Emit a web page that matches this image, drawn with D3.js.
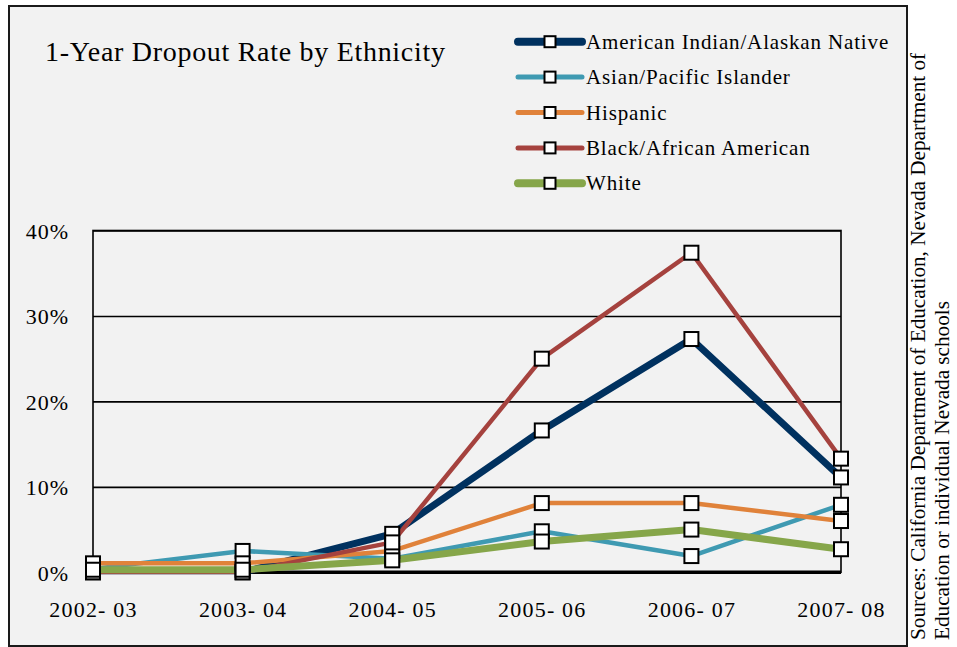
<!DOCTYPE html>
<html>

<head>
    <meta charset="utf-8">
    <script src="https://cdn.jsdelivr.net/npm/d3@7"></script>
    <style>
        body { margin: 0; background: #fff; }
        text { font-family: "Liberation Serif", "Times New Roman", serif; fill: #000; }
    </style>
</head>

<body>
    <div id="chart"></div>
    <script>

        var width = 957;
        var height = 647;

        // data
        var years = ["2002- 03", "2003- 04", "2004- 05", "2005- 06", "2006- 07", "2007- 08"];
        var groups = ["American Indian/Alaskan Native", "Asian/Pacific Islander", "Hispanic", "Black/African American", "White"];
        var amIndian = [0, 0, 4.5, 16.6, 27.3, 11.1];
        var asian = [0.4, 2.5, 1.6, 4.8, 1.9, 7.9];
        var hispanic = [1.05, 1.05, 2.5, 8.1, 8.1, 6.0];
        var black = [0, 0, 3.5, 25.0, 37.4, 13.3];
        var white = [0.3, 0.3, 1.4, 3.6, 5.0, 2.7];
        var yTicks = [0, 10, 20, 30, 40];

        var colors = ["#00315f", "#3f9ab2", "#e0823a", "#a5423e", "#86a64a"];
        var widths = [7, 4.5, 4.5, 4.5, 7];
        var legendWidths = [8, 5, 5, 5, 8];
        var series = [amIndian, asian, hispanic, black, white];

        var svg = d3.select("#chart")
            .append("svg")
            .attr("width", width)
            .attr("height", height);

        //---------------------------------- FRAME
        svg.append("rect")
            .attr("x", 9).attr("y", 6)
            .attr("width", 898).attr("height", 640)
            .attr("fill", "#f2f2f2")
            .attr("stroke", "#1a1a1a")
            .attr("stroke-width", 2);

        svg.append("text")
            .attr("x", 45).attr("y", 61)
            .attr("font-size", 28)
            .style("letter-spacing", "0.7px")
            .text("1-Year Dropout Rate by Ethnicity");

        //---------------------------------- SCALES
        var pLeft = 93, pRight = 841, pTop = 230.5, pBottom = 572.3;

        var x = d3.scalePoint().domain(years).range([pLeft, pRight]);
        var y = d3.scaleLinear().domain([0, 40]).range([pBottom, pTop]);

        // gridlines
        var grid = svg.append("g")
            .attr("transform", "translate(" + pLeft + ",0)")
            .call(d3.axisLeft(y).tickValues(yTicks).tickSize(-(pRight - pLeft)).tickFormat(""));
        grid.select(".domain").remove();
        grid.selectAll("line").attr("stroke", "#000").attr("stroke-width", 1.6);

        // plot border
        svg.append("rect")
            .attr("x", pLeft).attr("y", pTop)
            .attr("width", pRight - pLeft).attr("height", pBottom - pTop)
            .attr("fill", "none")
            .attr("stroke", "#000")
            .attr("stroke-width", 1.6);

        // y labels
        var yAxis = svg.append("g")
            .attr("transform", "translate(" + pLeft + ",0)")
            .call(d3.axisLeft(y).tickValues(yTicks).tickSize(0).tickPadding(24)
                .tickFormat(function (d) { return d + "%"; }));
        yAxis.select(".domain").remove();
        yAxis.selectAll("text")
            .attr("font-size", 22)
            .attr("font-family", "Liberation Serif, Times New Roman, serif")
            .attr("dy", "0.35em")
            .style("letter-spacing", "1px");

        // x labels
        var xAxis = svg.append("g")
            .attr("transform", "translate(0," + pBottom + ")")
            .call(d3.axisBottom(x).tickSize(0).tickPadding(29));
        xAxis.select(".domain").remove();
        xAxis.selectAll("text")
            .attr("font-size", 22)
            .attr("font-family", "Liberation Serif, Times New Roman, serif")
            .style("letter-spacing", "1.2px");

        // baseline
        svg.append("line")
            .attr("x1", pLeft).attr("x2", pRight)
            .attr("y1", y(0)).attr("y2", y(0))
            .attr("stroke", "#000")
            .attr("stroke-width", 3.5);

        //---------------------------------- LINES
        svg.append("clipPath").attr("id", "plotclip")
            .append("rect")
            .attr("x", 0).attr("y", pTop)
            .attr("width", width).attr("height", pBottom - pTop + 2);

        var theline = d3.line()
            .x(function (d, i) { return x(years[i]); })
            .y(function (d) { return y(d); });

        var lines = svg.append("g").attr("clip-path", "url(#plotclip)");
        series.forEach(function (s, k) {
            lines.append("path")
                .attr("d", theline(s))
                .attr("fill", "none")
                .attr("stroke", colors[k])
                .attr("stroke-width", widths[k])
                .attr("stroke-linejoin", "round");
        });

        var marks = svg.append("g");
        series.forEach(function (s, k) {
            marks.selectAll(null)
                .data(s)
                .enter().append("rect")
                .attr("x", function (d, i) { return x(years[i]) - 7; })
                .attr("y", function (d) { return y(d) - 7; })
                .attr("width", 14).attr("height", 14)
                .attr("fill", "#fff")
                .attr("stroke", "#000")
                .attr("stroke-width", 2);
        });

        //---------------------------------- LEGEND
        var legend = svg.append("g");
        groups.forEach(function (g, k) {
            var ly = 41.7 + k * 35.4;
            legend.append("line")
                .attr("x1", 518).attr("x2", 582)
                .attr("y1", ly).attr("y2", ly)
                .attr("stroke", colors[k])
                .attr("stroke-width", legendWidths[k])
                .attr("stroke-linecap", "round");
            legend.append("rect")
                .attr("x", 550 - 5.5).attr("y", ly - 5.5)
                .attr("width", 11).attr("height", 11)
                .attr("fill", "#fff")
                .attr("stroke", "#000")
                .attr("stroke-width", 2);
            legend.append("text")
                .attr("x", 586).attr("y", ly + 7)
                .attr("font-size", 21)
                .style("letter-spacing", "0.85px")
                .text(g);
        });

        //---------------------------------- SOURCE
        var src = svg.append("text")
            .attr("transform", "translate(925,640) rotate(-90)")
            .attr("font-size", 21.2);
        src.append("tspan").attr("x", 0).attr("y", 0)
            .text("Sources: California Department of Education, Nevada Department of");
        src.append("tspan").attr("x", 0).attr("y", 24)
            .text("Education or individual Nevada schools");

    </script>
</body>

</html>
